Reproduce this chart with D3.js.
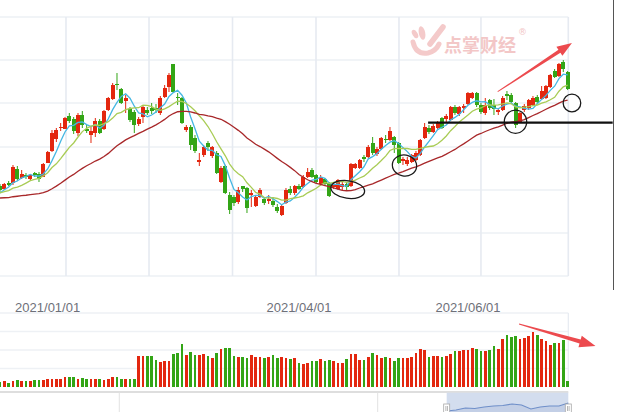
<!DOCTYPE html>
<html><head><meta charset="utf-8">
<script src="https://cdn.jsdelivr.net/npm/d3@7/dist/d3.min.js"></script>
<style>html,body{margin:0;padding:0;background:#fff;overflow:hidden}svg{display:block}</style>
</head><body>
<svg id="chart" width="617" height="412"></svg>
<script>
// ---------------- data ----------------
// closes of the sessions just before the visible window (needed for MA warm-up)
const priorCloses = [10.9,11.0,10.7,10.6,10.9,11.1,10.8,10.6,10.7,10.9,
  10.2,9.6,9.1,8.8,8.6,8.7,8.9,9.0,9.0,8.9,
  10.2,10.5,10.9,11.0,10.9, 10.0,10.1,11.1,11.3];
// [open, close, low, high]
const candles = [
 [11.4,11.0,10.8,11.6],
 [11.1,11.6,11.0,11.7],[11.7,11.5,11.4,11.9],[11.7,13.3,11.5,13.5],[13.1,12.1,11.9,13.4],[12.2,12.6,12.1,13.0],
 [12.5,12.3,12.1,12.7],[12.1,12.5,12.0,12.6],[12.7,12.5,12.3,12.8],[12.6,12.1,11.8,12.8],[12.3,13.6,12.3,13.7],
 [13.7,14.8,13.7,14.9],[14.9,16.7,14.8,17.0],[16.1,17.0,15.8,17.2],[17.2,17.3,16.9,17.7],[17.1,18.2,17.1,18.3],
 [18.4,17.9,17.7,18.7],[18.1,16.9,16.6,18.3],[16.7,18.5,16.4,18.7],[18.5,17.5,17.2,18.9],[17.1,16.9,16.7,17.5],
 [16.5,16.9,15.7,17.3],[16.7,17.9,16.3,18.2],[17.9,16.7,16.6,18.1],[17.1,18.9,17.0,19.0],[19.0,20.2,18.9,20.3],
 [20.1,21.5,20.0,21.7],[21.6,21.5,21.0,22.7],[21.1,19.7,19.6,21.2],[19.9,20.2,18.7,20.5],[19.1,18.0,17.8,19.3],
 [18.8,17.5,16.7,19.0],[17.6,18.1,17.4,18.3],[18.3,19.3,17.7,19.5],[19.0,18.7,18.5,19.3],[19.2,18.9,18.6,19.7],
 [19.2,19.0,18.7,19.6],[18.7,20.2,18.5,20.4],[20.3,21.2,20.2,21.5],[21.3,22.5,20.8,22.7],[23.6,20.8,20.7,23.6],
 [20.3,20.2,19.5,20.7],[20.2,17.7,17.6,20.3],[17.0,17.3,16.8,17.5],[17.3,15.5,15.0,17.5],[16.2,14.9,14.7,16.5],
 [13.8,14.0,13.4,14.7],[14.5,15.3,14.3,15.5],[15.7,15.3,14.9,15.9],[14.4,15.3,14.2,15.4],[14.7,12.7,12.6,14.9],
 [11.8,13.2,11.7,13.4],[13.4,10.7,10.6,13.5],[10.5,9.0,8.6,10.8],[10.3,9.7,9.4,10.5],[9.8,11.0,9.6,11.3],
 [11.4,11.1,10.8,11.4],[11.2,9.2,8.7,11.3],[10.5,10.7,9.3,11.0],[9.4,10.3,9.3,10.4],[10.3,11.0,10.2,11.2],
 [10.1,9.7,9.5,10.3],[9.9,10.1,9.6,10.5],[9.9,9.5,9.3,10.3],[9.3,8.9,8.7,9.6],[8.5,9.4,8.4,9.6],
 [9.7,11.0,9.6,11.2],[11.1,10.7,10.5,11.4],[10.7,11.4,10.5,11.5],[11.4,11.1,11.0,11.6],[11.3,12.3,11.2,12.5],
 [12.3,12.8,12.2,13.2],[13.0,12.3,12.2,13.2],[12.5,11.8,11.6,12.6],[11.6,12.3,11.4,12.5],[12.1,11.6,11.4,12.2],
 [11.7,10.4,10.3,11.8],[11.3,11.6,11.1,11.8],[11.1,12.0,11.0,12.1],[11.3,11.6,11.0,11.8],[11.6,11.3,11.0,11.8],
 [11.4,13.6,11.3,13.7],[13.2,13.6,13.1,13.7],[13.2,14.0,13.1,14.1],[14.3,14.1,13.8,14.5],[14.3,15.3,14.2,15.5],
 [15.7,14.7,14.5,16.3],[14.6,15.1,14.4,15.3],[15.1,16.2,15.0,16.3],[16.1,16.0,15.7,16.5],[16.0,16.9,15.9,17.3],
 [16.3,15.5,14.7,16.4],[15.7,13.7,13.6,15.8],[13.9,14.1,13.5,14.3],[13.6,14.0,13.4,14.3],[13.8,14.5,13.7,14.6],
 [14.0,14.7,13.9,14.9],[14.5,16.0,14.4,16.1],[16.2,17.3,16.1,17.7],[17.2,16.8,16.6,17.5],[16.8,17.4,16.7,17.6],
 [17.2,17.7,17.1,17.9],[18.2,17.2,17.1,18.3],[18.1,18.4,17.8,18.6],[18.0,19.3,17.9,19.4],[19.3,18.7,18.5,19.5],
 [18.6,19.3,18.4,19.4],[19.2,19.4,18.7,19.6],[19.6,20.7,19.5,20.8],[20.2,20.7,20.1,20.8],[20.7,19.5,19.3,20.8],
 [19.5,18.8,18.6,19.7],[18.7,19.5,18.5,20.2],[20.0,19.2,19.0,20.1],[19.5,19.1,18.5,20.1],[18.8,19.0,18.5,19.2],
 [19.0,20.2,18.9,20.4],[20.6,20.4,20.0,20.9],[20.5,19.8,19.7,20.7],[19.7,17.5,17.2,19.8],[17.8,18.7,17.7,18.8],
 [19.0,19.4,18.8,19.6],[19.2,20.0,19.0,20.1],[19.5,20.2,19.4,20.4],[20.3,19.8,19.6,20.5],[20.1,20.9,20.0,21.4],
 [20.2,21.4,20.1,21.5],[21.3,22.5,21.2,22.6],[22.9,22.3,22.2,23.1],[22.4,23.6,22.3,23.7],[23.8,23.1,22.8,24.0],
 [22.8,21.1,21.0,22.9]
];
const volumes = [2.5,3.1,2.2,3.1,3.6,3.1,3.1,3.1,3.6,3.6,
 3.6,4.2,4.5,4.5,4.5,5.2,5.2,5.2,4.5,5.0,
 4.5,4.2,4.2,4.2,3.6,4.5,5.2,5.2,4.5,4.5,
 4.5,4.5,16.9,16.9,16.9,16.9,14.8,13.4,14.2,13.9,
 18.0,18.5,23.4,17.5,19.1,17.5,17.5,18.0,16.9,15.8,
 18.5,20.7,21.2,21.2,16.9,16.4,16.4,15.8,17.5,16.4,
 16.4,15.8,16.4,17.5,15.8,16.4,15.8,15.3,15.8,13.1,
 12.6,13.1,13.9,14.2,15.3,13.9,14.8,13.9,13.1,13.1,
 15.3,18.0,18.0,14.8,14.8,16.4,18.5,17.5,15.8,16.4,
 15.8,14.2,15.8,15.8,15.8,16.4,18.5,20.7,20.2,16.4,
 16.9,16.9,16.4,16.9,18.0,19.6,19.6,20.2,20.2,21.2,
 20.7,19.6,19.6,20.2,22.3,20.7,26.1,28.3,27.2,27.7,
 26.1,26.6,27.7,29.9,28.3,26.1,25.0,22.9,23.9,23.9,
 25.6,3.4];
const firstTradingDay = "2020-12-17";
const holidays = ["2021-01-01","2021-02-11","2021-02-12","2021-02-15","2021-02-16","2021-02-17",
  "2021-04-05","2021-05-03","2021-05-04","2021-05-05","2021-06-14"];
const axisLabels = [["2021-01","2021/01/01"],["2021-04","2021/04/01"],["2021-06","2021/06/01"]];
const maPeriods = [5, 10, 30];
const maColors = ["#45b7e2", "#a9cc55", "#a8282a"];
const priceGrid = [2.4, 6.7, 11.0, 15.3, 19.7, 24.0, 28.3];
const volumeGrid = [10, 20, 30, 40];
const splitIdx = [15.23, 34.39, 53.66, 72.93, 92.08, 111.0];
const zoomPercent = [78.6, 100];
const sliderShadow = [1, 2, 4, 3.5, 5, 6, 6.5, 8, 7, 3, 5, 6, 6, 9];
// annotations in data coordinates: [index, price]
const ovals = [ {c:[80.25,11.05], rx:17, ry:8.8, rot:8}, {c:[93.35,13.45], rx:12.2, ry:10.5, rot:10},
  {c:[118.97,17.83], rx:11.2, ry:11.6, rot:0}, {c:[132.0,19.7], rx:8.8, ry:8.8, rot:0} ];
const levelLine = {price:17.73, from:98.8, to:141.4};
const priceArrow = {from:[114.86,20.83], to:[132.0,25.7]};
const volumeArrow = {from:[119.78,34.05], to:[137.43,22.16]};

// ---------------- build ----------------
const RED = "#e3270f", GREEN = "#33a516";
const svg = d3.select("#chart");
const fmt = d3.timeFormat("%Y-%m-%d");
const hol = new Set(holidays);
const dates = [];
for (let d = d3.timeParse("%Y-%m-%d")(firstTradingDay); dates.length < candles.length; d = d3.timeDay.offset(d, 1)) {
  const wd = d.getDay();
  if (wd !== 0 && wd !== 6 && !hol.has(fmt(d))) dates.push(fmt(d));
}
const step = 4.333;
const x = d3.scaleBand().domain(dates).range([-step/2, -step/2 + step*dates.length]).padding(0);
const cx = d => x(d) + x.bandwidth()/2;
const xi = d3.scaleLinear().domain([0, dates.length-1]).range([cx(dates[0]), cx(dates[dates.length-1])]);
const y = d3.scaleLinear().domain([2.4, 28.3]).range([276, 17]);
const yv = d3.scaleLinear().domain([0, 40]).range([387, 313]);
const plotRight = 568.3;

// grids
const g0 = svg.append("g");
g0.selectAll(".hg").data(priceGrid).join("line")
  .attr("x1", 0).attr("x2", plotRight).attr("y1", d=>y(d)).attr("y2", d=>y(d))
  .attr("stroke", "#edf0f4").attr("stroke-width", 1.6);
g0.selectAll(".vg").data(splitIdx).join("line")
  .attr("x1", d=>xi(d)).attr("x2", d=>xi(d)).attr("y1", y(28.3)).attr("y2", y(2.4))
  .attr("stroke", "#e6eaf1").attr("stroke-width", 1.6);
g0.append("line").attr("x1", plotRight).attr("x2", plotRight).attr("y1", y(28.3)).attr("y2", y(2.4))
  .attr("stroke", "#e6eaf1").attr("stroke-width", 1.6);
g0.selectAll(".vgv").data(volumeGrid).join("line")
  .attr("x1", 0).attr("x2", plotRight).attr("y1", d=>yv(d)).attr("y2", d=>yv(d))
  .attr("stroke", "#eef1f5").attr("stroke-width", 1.4);
g0.append("line").attr("x1", plotRight).attr("x2", plotRight).attr("y1", yv(40)).attr("y2", yv(0))
  .attr("stroke", "#e6eaf1").attr("stroke-width", 1.2);

// watermark
const wm = svg.append("g").attr("transform", "translate(410,25)").attr("fill", "#f4caca");
wm.append("ellipse").attr("cx", 5).attr("cy", 9).attr("rx", 2.6).attr("ry", 4.6).attr("transform", "rotate(-30,5,9)");
wm.append("ellipse").attr("cx", 12).attr("cy", 8).attr("rx", 3.2).attr("ry", 6.8).attr("transform", "rotate(-12,12,8)");
wm.append("path").attr("d", "M33,2 L20,19").attr("stroke", "#f4caca").attr("stroke-width", 5.5).attr("stroke-linecap", "round");
wm.append("path").attr("d", "M3,17 Q6,30 18,28 Q26,26 29,19").attr("fill", "none").attr("stroke", "#f4caca").attr("stroke-width", 5).attr("stroke-linecap", "round");
svg.append("text").attr("x", 444).attr("y", 52).text("点掌财经")
  .attr("font-family", "Noto Sans CJK SC").attr("font-weight", "bold").attr("font-size", 18).attr("fill", "#f3c7c7");
svg.append("text").attr("x", 518).attr("y", 35).text("®")
  .attr("font-family", "DejaVu Sans").attr("font-size", 9).attr("fill", "#f3c7c7");

// candles
const cg = svg.append("g");
const bw = 4.0;
const up = c => c[1] >= c[0];
cg.selectAll(".wick").data(candles).join("line")
  .attr("x1", (c,i)=>cx(dates[i])).attr("x2", (c,i)=>cx(dates[i]))
  .attr("y1", c=>y(c[3])).attr("y2", c=>y(c[2]))
  .attr("stroke", c=>up(c)?RED:GREEN).attr("stroke-width", 1);
cg.selectAll(".body").data(candles).join("rect")
  .attr("x", (c,i)=>cx(dates[i]) - bw/2).attr("width", bw)
  .attr("y", c=>y(Math.max(c[0],c[1])))
  .attr("height", c=>Math.max(1, Math.abs(y(c[0]) - y(c[1]))))
  .attr("fill", c=>up(c)?RED:GREEN).attr("shape-rendering", "crispEdges");

// moving averages
const allCloses = priorCloses.concat(candles.map(c=>c[1]));
const off = priorCloses.length;
maPeriods.forEach((n, k) => {
  const vals = candles.map((c, j) => {
    const end = j + off;
    return end - n + 1 >= 0 ? d3.mean(allCloses.slice(end - n + 1, end + 1)) : null;
  });
  const line = d3.line().defined(v => v !== null).x((v,i)=>cx(dates[i])).y(v=>y(v));
  svg.append("path").datum(vals).attr("d", line).attr("fill", "none")
    .attr("stroke", maColors[k]).attr("stroke-width", 1.3);
});

// volume
svg.append("g").selectAll("rect").data(volumes).join("rect")
  .attr("x", (v,i)=>cx(dates[i]) - 1.4).attr("width", 2.8)
  .attr("y", v=>yv(v)).attr("height", v=>yv(0)-yv(v))
  .attr("fill", (v,i)=>up(candles[i])?RED:GREEN).attr("shape-rendering", "crispEdges");

// date labels
svg.append("g").selectAll("text").data(axisLabels).join("text")
  .attr("x", d => cx(dates.find(t => t.startsWith(d[0]))))
  .attr("y", 312).attr("text-anchor", "middle")
  .attr("font-family", "Liberation Sans, Arial, sans-serif").attr("font-size", 13)
  .attr("fill", "#6e7079").text(d=>d[1]);

// slider
const sx = d3.scaleLinear().domain([0, 100]).range([0, plotRight]);
svg.append("line").attr("x1", 0).attr("x2", plotRight).attr("y1", 392).attr("y2", 392)
  .attr("stroke", "#d3d3d3").attr("stroke-width", 1.5);
[20.99, 66.46].forEach(p => svg.append("line").attr("x1", sx(p)).attr("x2", sx(p)).attr("y1", 392.7).attr("y2", 412)
  .attr("stroke", "#e2e2e2").attr("stroke-width", 1));
const wx0 = sx(zoomPercent[0]), wx1 = sx(zoomPercent[1]);
svg.append("rect").attr("x", wx0).attr("y", 392.7).attr("width", wx1-wx0).attr("height", 20)
  .attr("fill", "#d3ddee");
const shx = d3.scaleLinear().domain([0, sliderShadow.length-1]).range([wx0, wx1]);
const shy = d3.scaleLinear().domain([0, 10]).range([412, 402]);
svg.append("path").datum(sliderShadow)
  .attr("d", d3.area().x((v,i)=>shx(i)).y0(412).y1(v=>shy(v)))
  .attr("fill", "#c3cfe6");
svg.append("path").datum(sliderShadow)
  .attr("d", d3.line().x((v,i)=>shx(i)).y(v=>shy(v)))
  .attr("fill", "none").attr("stroke", "#6f8fc9").attr("stroke-width", 1.1);
[wx0, wx1].forEach(hx => {
  svg.append("rect").attr("x", hx-3).attr("y", 404).attr("width", 6).attr("height", 9)
    .attr("fill", "#fff").attr("stroke", "#a9a9a9").attr("stroke-width", 0.8);
  svg.append("line").attr("x1", hx-0.8).attr("x2", hx-0.8).attr("y1", 406).attr("y2", 411).attr("stroke", "#999").attr("stroke-width", 0.7);
  svg.append("line").attr("x1", hx+0.8).attr("x2", hx+0.8).attr("y1", 406).attr("y2", 411).attr("stroke", "#999").attr("stroke-width", 0.7);
});

// annotations
const ann = svg.append("g");
ovals.forEach(o => {
  const px = xi(o.c[0]), py = y(o.c[1]);
  ann.append("ellipse").attr("cx", px).attr("cy", py).attr("rx", o.rx).attr("ry", o.ry)
    .attr("transform", `rotate(${o.rot},${px},${py})`)
    .attr("fill", "none").attr("stroke", "#1a1a1a").attr("stroke-width", 1.3);
});
ann.append("line").attr("x1", xi(levelLine.from)).attr("x2", xi(levelLine.to))
  .attr("y1", y(levelLine.price)).attr("y2", y(levelLine.price))
  .attr("stroke", "#111").attr("stroke-width", 2.2);
function arrow(x1, y1, x2, y2, w0, w1, hl, hw) {
  const L = Math.hypot(x2-x1, y2-y1), ux = (x2-x1)/L, uy = (y2-y1)/L, nx = -uy, ny = ux;
  const bx = x2 - ux*hl, by = y2 - uy*hl;
  const pts = [[x1+nx*w0/2, y1+ny*w0/2],[bx+nx*w1/2, by+ny*w1/2],[bx+nx*hw, by+ny*hw],[x2,y2],
    [bx-nx*hw, by-ny*hw],[bx-nx*w1/2, by-ny*w1/2],[x1-nx*w0/2, y1-ny*w0/2]];
  ann.append("polygon").attr("points", pts.map(p=>p.join(",")).join(" ")).attr("fill", "#ec4a4e");
}
arrow(xi(priceArrow.from[0]), y(priceArrow.from[1]), xi(priceArrow.to[0]), y(priceArrow.to[1]), 0.8, 3.6, 15, 5.5);
arrow(xi(volumeArrow.from[0]), yv(volumeArrow.from[1]), xi(volumeArrow.to[0]), yv(volumeArrow.to[1]), 1, 4.2, 16, 6);

// right frame line of the screenshot
svg.append("line").attr("x1", 613.5).attr("x2", 613.5).attr("y1", 0).attr("y2", 290)
  .attr("stroke", "#555").attr("stroke-width", 1);
</script>
</body></html>
